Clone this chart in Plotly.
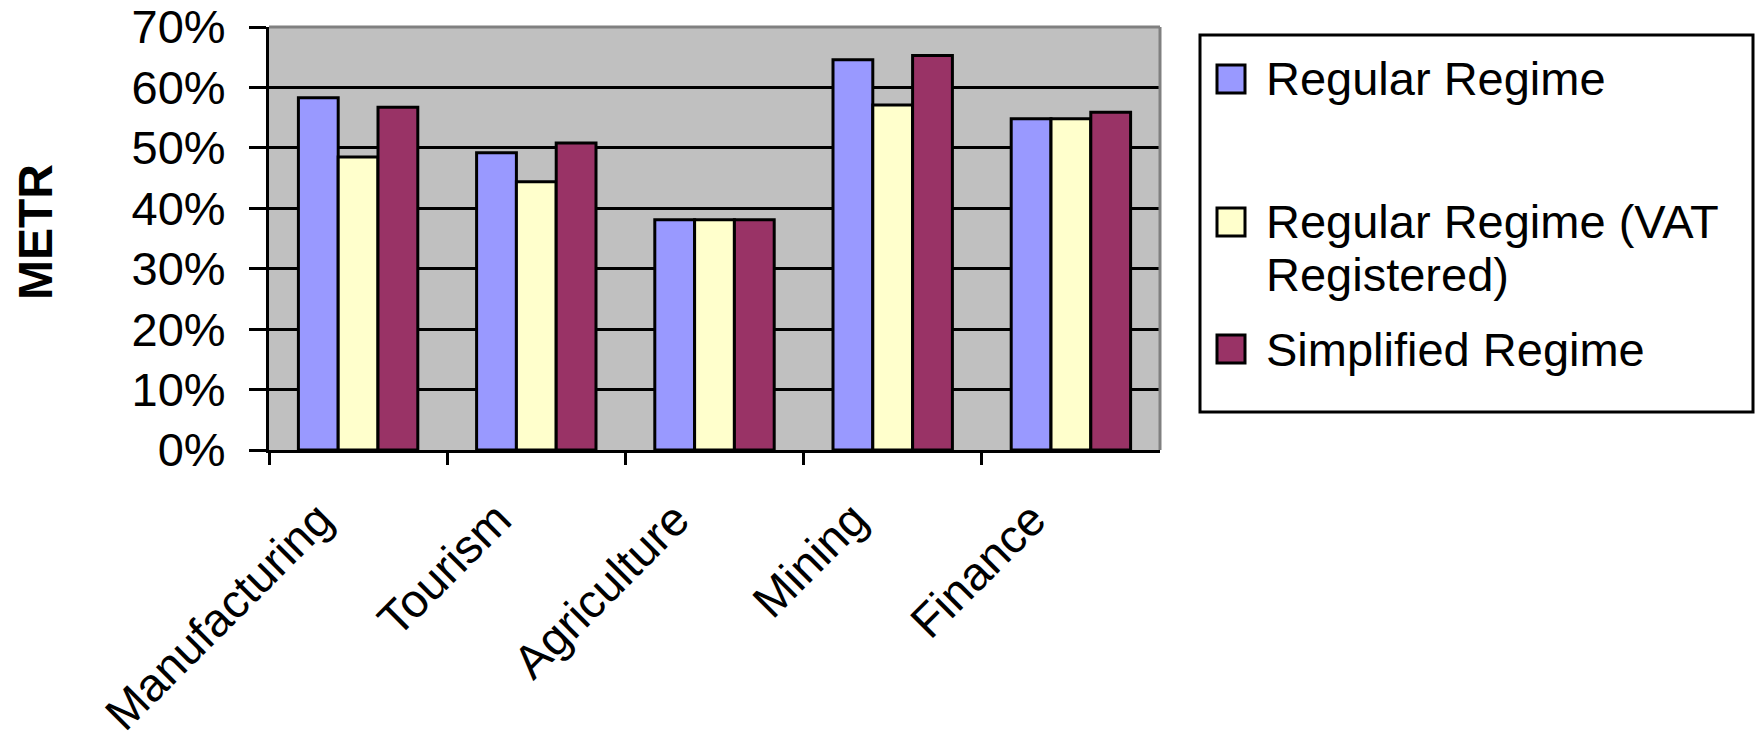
import plotly.graph_objects as go

# Marginal effective tax rate by sector and regime
categories = ["Manufacturing", "Tourism", "Agriculture", "Mining", "Finance"]
regular = [0.583, 0.492, 0.381, 0.646, 0.548]
regular_vat = [0.485, 0.444, 0.381, 0.571, 0.548]
simplified = [0.567, 0.508, 0.381, 0.653, 0.559]

series_names = ["Regular Regime", "Regular Regime (VAT Registered)", "Simplified Regime"]
series_values = [regular, regular_vat, simplified]
series_colors = ["#9999FF", "#FFFFCC", "#993366"]

y_ticks = [0, 0.1, 0.2, 0.3, 0.4, 0.5, 0.6, 0.7]

W, H = 1756, 739
FONT = "Liberation Sans, Arial, sans-serif"
FS = 47

# plot area in pixels
PX0, PX1, PY0, PY1 = 269, 1160, 27, 450


def px(x):
    return x / W


def py(y):
    return 1 - y / H


fig = go.Figure()
for name, vals, col in zip(series_names, series_values, series_colors):
    fig.add_trace(go.Bar(
        x=categories, y=vals, name=name,
        marker=dict(color=col, line=dict(color="black", width=3)),
        showlegend=False,
    ))

fig.update_layout(
    width=W, height=H,
    margin=dict(l=0, r=0, t=0, b=0),
    paper_bgcolor="white",
    plot_bgcolor="#C0C0C0",
    barmode="group",
    bargap=0.33,
    bargroupgap=0,
    font=dict(family=FONT, size=FS, color="black"),
    xaxis=dict(
        domain=[px(PX0), px(PX1)],
        tickangle=-45,
        tickson="boundaries",
        ticks="outside", ticklen=12, tickwidth=3, tickcolor="black",
        ticklabelshift=-39,
        ticklabelstandoff=20,
        showline=True, linecolor="black", linewidth=3,
        showgrid=False,
        tickfont=dict(family=FONT, size=FS),
        automargin=False,
    ),
    yaxis=dict(
        domain=[py(PY1), py(PY0)],
        range=[0, 0.7],
        tickvals=y_ticks,
        tickformat=".0%",
        ticks="outside", ticklen=17, tickwidth=3, tickcolor="black",
        ticklabelstandoff=14,
        showline=True, linecolor="black", linewidth=3,
        showgrid=True, gridcolor="black", gridwidth=3,
        zeroline=False,
        tickfont=dict(family=FONT, size=FS),
        automargin=False,
    ),
)

shapes = []
# gray frame on the top and right of the plot area
shapes.append(dict(type="line", xref="paper", yref="paper",
                   x0=px(PX0), x1=px(PX1), y0=py(PY0), y1=py(PY0),
                   line=dict(color="#808080", width=3), layer="above"))
shapes.append(dict(type="line", xref="paper", yref="paper",
                   x0=px(PX1), x1=px(PX1), y0=py(PY0), y1=py(PY1),
                   line=dict(color="#808080", width=3), layer="above"))

# legend box
shapes.append(dict(type="rect", xref="paper", yref="paper",
                   x0=px(1200), x1=px(1753), y0=py(412), y1=py(35),
                   line=dict(color="black", width=3), fillcolor="white"))

annotations = [
    dict(text="<b>METR</b>", x=px(36), y=py(232), xref="paper", yref="paper",
         textangle=-90, showarrow=False, font=dict(family=FONT, size=48),
         xanchor="center", yanchor="middle"),
]

legend_rows = [
    (series_colors[0], 79, ["Regular Regime"], [79]),
    (series_colors[1], 222, ["Regular Regime (VAT", "Registered)"], [222, 274]),
    (series_colors[2], 349, ["Simplified Regime"], [349]),
]
for col, yc, lines, ys in legend_rows:
    shapes.append(dict(type="rect", xref="paper", yref="paper",
                       x0=px(1217), x1=px(1245), y0=py(yc + 14), y1=py(yc - 14),
                       line=dict(color="black", width=3), fillcolor=col))
    for t, yy in zip(lines, ys):
        annotations.append(dict(text=t, x=px(1264), y=py(yy), xref="paper", yref="paper",
                                showarrow=False, xanchor="left", yanchor="middle",
                                font=dict(family=FONT, size=FS)))

fig.update_layout(shapes=shapes, annotations=annotations)

fig.write_html("out.html")
